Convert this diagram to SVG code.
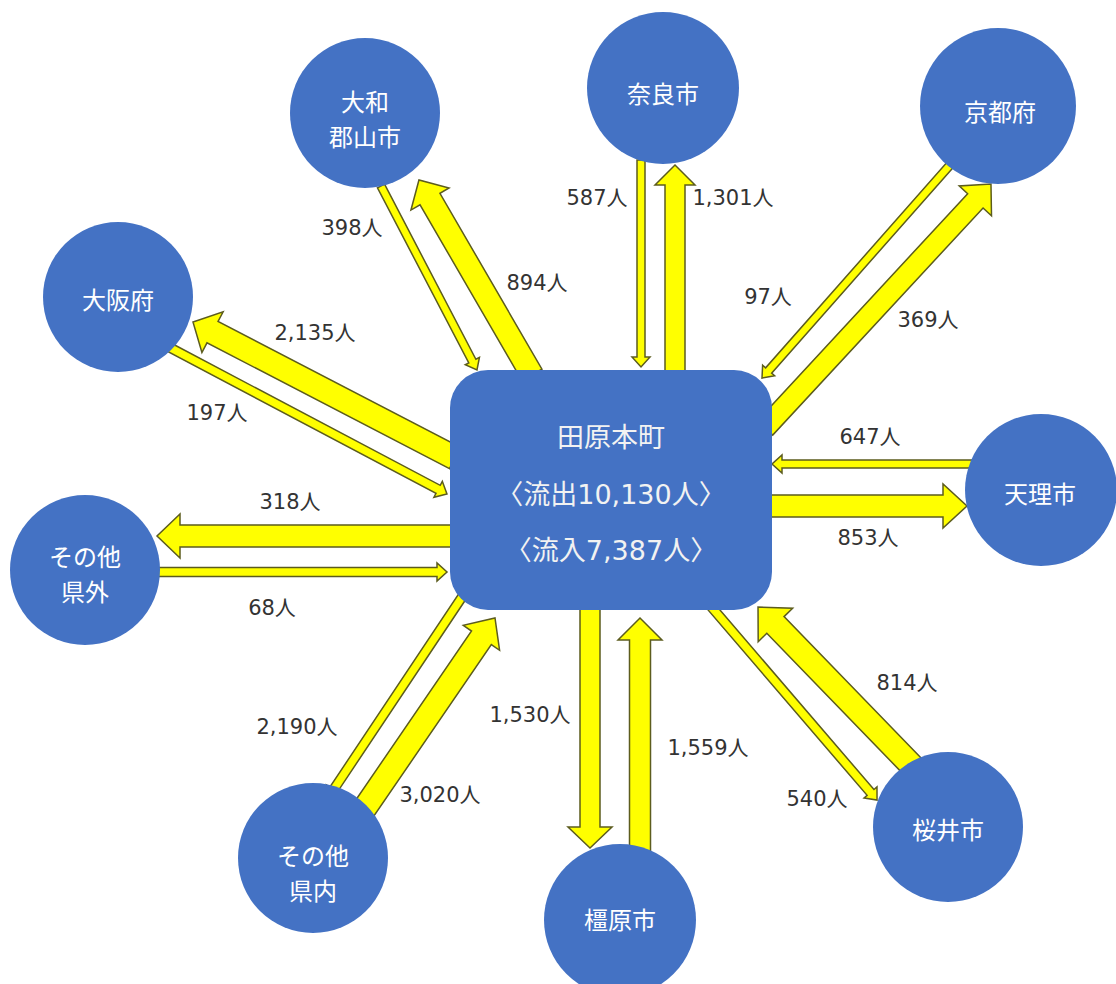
<svg xmlns="http://www.w3.org/2000/svg" width="1116" height="984" viewBox="0 0 1116 984">
<style>
.ar{fill:#FFFF00;stroke:#5c5c1e;stroke-width:1.5;stroke-linejoin:miter}
.nd{fill:#4472C4}
.nt{fill:#ffffff;font-family:"Noto Sans CJK JP","Noto Sans",sans-serif;font-size:24px;text-anchor:middle;dominant-baseline:central}
.ct{fill:#f2f2f2;font-family:"DejaVu Sans","Noto Sans CJK JP",sans-serif;font-size:27px;text-anchor:middle;dominant-baseline:central}
.lb{fill:#333333;font-family:"DejaVu Sans","Noto Sans CJK JP",sans-serif;font-size:21px;text-anchor:middle;dominant-baseline:central}
</style>
<rect width="1116" height="984" fill="#ffffff"/>
<g id="connectors">
<polygon class="ar" transform="translate(381,186) rotate(62.45)" points="0,-4 197.5,-4 197.5,-8 207.5,0 197.5,8 197.5,4 0,4"/>
<polygon class="ar" transform="translate(532,375) rotate(-120.1)" points="0,-11.5 203.4,-11.5 203.4,-22 225.4,0 203.4,22 203.4,11.5 0,11.5"/>
<polygon class="ar" transform="translate(641,160) rotate(90)" points="0,-4 197,-4 197,-9 207,0 197,9 197,4 0,4"/>
<polygon class="ar" transform="translate(675,375) rotate(-90)" points="0,-10 190,-10 190,-20 210,0 190,20 190,10 0,10"/>
<polygon class="ar" transform="translate(950,165) rotate(131.43)" points="0,-4 274.1,-4 274.1,-8 284.1,0 274.1,8 274.1,4 0,4"/>
<polygon class="ar" transform="translate(765,428) rotate(-47.2)" points="0,-10.5 309.6,-10.5 309.6,-22 332.6,0 309.6,22 309.6,10.5 0,10.5"/>
<polygon class="ar" transform="translate(455,458) rotate(-152.57)" points="0,-12 273.2,-12 273.2,-23 295.2,0 273.2,23 273.2,12 0,12"/>
<polygon class="ar" transform="translate(165,345) rotate(27.85)" points="0,-4.5 308.9,-4.5 308.9,-9 318.9,0 308.9,9 308.9,4.5 0,4.5"/>
<polygon class="ar" transform="translate(975,464) rotate(180)" points="0,-4 193,-4 193,-9 203,0 193,9 193,4 0,4"/>
<polygon class="ar" transform="translate(765,506)" points="0,-11 178,-11 178,-22 202,0 178,22 178,11 0,11"/>
<polygon class="ar" transform="translate(455,536) rotate(180)" points="0,-11 275,-11 275,-22 298,0 275,22 275,11 0,11"/>
<polygon class="ar" transform="translate(155,572)" points="0,-4.5 282,-4.5 282,-9 292,0 282,9 282,4.5 0,4.5"/>
<polygon class="ar" transform="translate(468,588) rotate(123.69)" points="0,-4.5 242.4,-4.5 242.4,-8.5 252.4,0 242.4,8.5 242.4,4.5 0,4.5"/>
<polygon class="ar" transform="translate(358,818) rotate(-55.59)" points="0,-12 218.4,-12 218.4,-22 242.4,0 218.4,22 218.4,12 0,12"/>
<polygon class="ar" transform="translate(590,605) rotate(90)" points="0,-10 222,-10 222,-22 243,0 222,22 222,10 0,10"/>
<polygon class="ar" transform="translate(640,860) rotate(-90)" points="0,-10.5 220,-10.5 220,-22 242,0 220,22 220,10.5 0,10.5"/>
<polygon class="ar" transform="translate(708,603) rotate(49.37)" points="0,-4.5 249.6,-4.5 249.6,-8.5 259.6,0 249.6,8.5 249.6,4.5 0,4.5"/>
<polygon class="ar" transform="translate(918,772) rotate(-134.12)" points="0,-12 204.8,-12 204.8,-24 229.8,0 204.8,24 204.8,12 0,12"/>
</g>
<g id="labels">
<text class="lb" x="352" y="228">398人</text>
<text class="lb" x="537" y="283">894人</text>
<text class="lb" x="597" y="198">587人</text>
<text class="lb" x="733" y="198">1,301人</text>
<text class="lb" x="768" y="297">97人</text>
<text class="lb" x="928" y="320">369人</text>
<text class="lb" x="315" y="333">2,135人</text>
<text class="lb" x="217" y="413">197人</text>
<text class="lb" x="870" y="437">647人</text>
<text class="lb" x="868" y="538">853人</text>
<text class="lb" x="290" y="502">318人</text>
<text class="lb" x="272" y="608">68人</text>
<text class="lb" x="297" y="727">2,190人</text>
<text class="lb" x="440" y="795">3,020人</text>
<text class="lb" x="530" y="715">1,530人</text>
<text class="lb" x="708" y="748">1,559人</text>
<text class="lb" x="907" y="683">814人</text>
<text class="lb" x="817" y="799">540人</text>
</g>
<g id="center">
<rect class="nd" x="450" y="370" width="322" height="240" rx="38" ry="38"/>
<text class="ct" x="611" y="437">田原本町</text>
<text class="ct" x="611" y="494">〈流出10,130人〉</text>
<text class="ct" x="611" y="550">〈流入7,387人〉</text>
</g>
<g id="yamatokoriyama"><circle class="nd" cx="365" cy="113" r="75"/><text class="nt" x="365" y="100">大和</text><text class="nt" x="365" y="135">郡山市</text></g>
<g id="nara"><circle class="nd" cx="663" cy="88" r="76"/><text class="nt" x="663" y="92">奈良市</text></g>
<g id="kyoto"><circle class="nd" cx="998" cy="106" r="78"/><text class="nt" x="1000" y="110">京都府</text></g>
<g id="osaka"><circle class="nd" cx="118" cy="297" r="75"/><text class="nt" x="118" y="298">大阪府</text></g>
<g id="tenri"><circle class="nd" cx="1041" cy="490" r="76"/><text class="nt" x="1040" y="492">天理市</text></g>
<g id="kengai"><circle class="nd" cx="85" cy="570" r="75"/><text class="nt" x="85" y="555">その他</text><text class="nt" x="85" y="590">県外</text></g>
<g id="kennai"><circle class="nd" cx="313" cy="858" r="75"/><text class="nt" x="313" y="854">その他</text><text class="nt" x="313" y="889">県内</text></g>
<g id="kashihara"><circle class="nd" cx="620" cy="920" r="76"/><text class="nt" x="620" y="918">橿原市</text></g>
<g id="sakurai"><circle class="nd" cx="948" cy="827" r="75"/><text class="nt" x="948" y="828">桜井市</text></g>
</svg>
